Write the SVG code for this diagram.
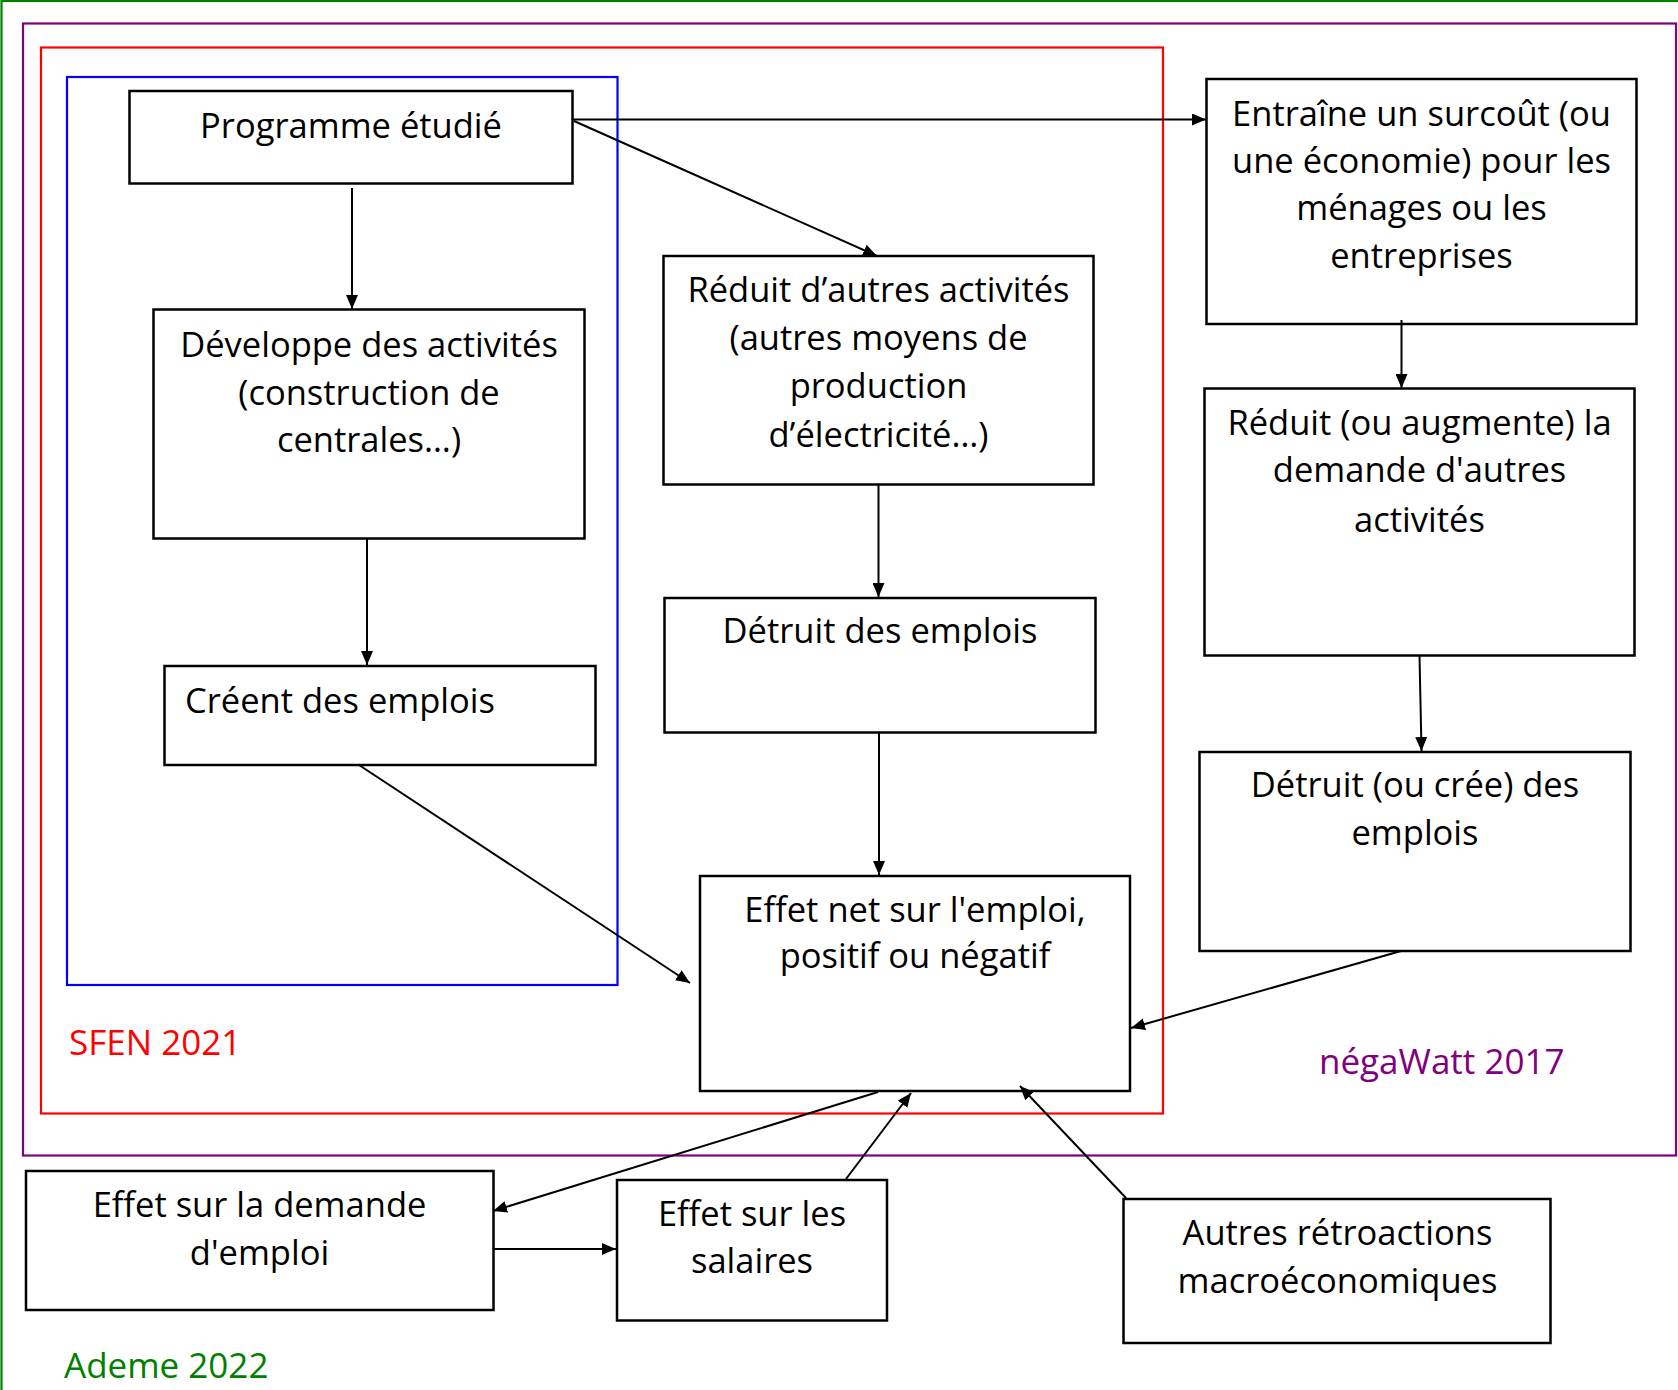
<svg xmlns="http://www.w3.org/2000/svg" width="1678" height="1390" viewBox="0 0 1678 1390">
<defs>
<marker id="ah" markerUnits="userSpaceOnUse" markerWidth="16" markerHeight="12" refX="14" refY="6" orient="auto">
<path d="M0,0 L14,6 L0,12 Z" fill="#000"/>
</marker>
<style>
.box{fill:#fff;stroke:#000;stroke-width:2.5}
.frame{fill:none;stroke-width:2.2}
.t{font-family:"Open Sans","Noto Sans","Liberation Sans",sans-serif;font-size:34.5px;fill:#000;text-anchor:middle}
.lbl{font-family:"Open Sans","Noto Sans","Liberation Sans",sans-serif;font-size:35px}
.c{fill:none;stroke:#000;stroke-width:2;marker-end:url(#ah)}
</style>
</defs>
<rect width="1678" height="1390" fill="#fff"/>
<g id="frames">
<rect class="frame" x="1.5" y="1" width="1700" height="1420" stroke="#008000"/>
<rect class="frame" x="23" y="23.5" width="1653" height="1132" stroke="#800080"/>
<rect class="frame" x="41" y="47.5" width="1122" height="1066" stroke="#ff0000"/>
<rect class="frame" x="67" y="77" width="550.5" height="908" stroke="#0000ff"/>
</g>
<g id="frame-labels">
<text class="lbl" x="69" y="1055" fill="#ff0000">SFEN 2021</text>
<text class="lbl" x="1319" y="1074" fill="#800080">négaWatt 2017</text>
<text class="lbl" x="64" y="1378" fill="#008000">Ademe 2022</text>
</g>
<g id="n-programme">
<rect class="box" x="129.5" y="91" width="443" height="92.5"/>
<text class="t" x="351" y="138">Programme étudié</text>
</g>
<g id="n-developpe">
<rect class="box" x="153.5" y="309.5" width="431" height="229"/>
<text class="t" x="369" y="357">Développe des activités</text>
<text class="t" x="369" y="405">(construction de</text>
<text class="t" x="369" y="452">centrales…)</text>
</g>
<g id="n-creent">
<rect class="box" x="164.5" y="666" width="431" height="99"/>
<text class="t" x="185" y="713" style="text-anchor:start">Créent des emplois</text>
</g>
<g id="n-reduit-autres">
<rect class="box" x="663.5" y="256" width="430" height="228.5"/>
<text class="t" x="878.5" y="302">Réduit d’autres activités</text>
<text class="t" x="878.5" y="350">(autres moyens de</text>
<text class="t" x="878.5" y="398">production</text>
<text class="t" x="878.5" y="447">d’électricité…)</text>
</g>
<g id="n-detruit">
<rect class="box" x="664.5" y="598" width="431" height="134.5"/>
<text class="t" x="880" y="643">Détruit des emplois</text>
</g>
<g id="n-effet-net">
<rect class="box" x="700" y="876" width="430" height="215"/>
<text class="t" x="915" y="922">Effet net sur l'emploi,</text>
<text class="t" x="915" y="968">positif ou négatif</text>
</g>
<g id="n-entraine">
<rect class="box" x="1206.5" y="79" width="430" height="245"/>
<text class="t" x="1421.5" y="126">Entraîne un surcoût (ou</text>
<text class="t" x="1421.5" y="173">une économie) pour les</text>
<text class="t" x="1421.5" y="220">ménages ou les</text>
<text class="t" x="1421.5" y="268">entreprises</text>
</g>
<g id="n-reduit-augmente">
<rect class="box" x="1204.5" y="388.5" width="430" height="267"/>
<text class="t" x="1419.5" y="435">Réduit (ou augmente) la</text>
<text class="t" x="1419.5" y="482">demande d'autres</text>
<text class="t" x="1419.5" y="532">activités</text>
</g>
<g id="n-detruit-cree">
<rect class="box" x="1199.5" y="752" width="431" height="199"/>
<text class="t" x="1415" y="797">Détruit (ou crée) des</text>
<text class="t" x="1415" y="845">emplois</text>
</g>
<g id="n-demande">
<rect class="box" x="26" y="1171" width="467.5" height="139"/>
<text class="t" x="259.5" y="1217">Effet sur la demande</text>
<text class="t" x="259.5" y="1265">d'emploi</text>
</g>
<g id="n-salaires">
<rect class="box" x="617" y="1180" width="270" height="140.5"/>
<text class="t" x="752" y="1226">Effet sur les</text>
<text class="t" x="752" y="1273">salaires</text>
</g>
<g id="n-autres">
<rect class="box" x="1123.5" y="1199" width="427" height="144"/>
<text class="t" x="1337.5" y="1245">Autres rétroactions</text>
<text class="t" x="1337.5" y="1293">macroéconomiques</text>
</g>
<g id="connectors">
<line class="c" x1="352" y1="188" x2="352" y2="309"/>
<line class="c" x1="573" y1="119.5" x2="1206" y2="119.5"/>
<line class="c" x1="574" y1="121" x2="877" y2="256"/>
<line class="c" x1="367" y1="538.5" x2="367" y2="665"/>
<line class="c" x1="359" y1="765" x2="690" y2="983"/>
<line class="c" x1="878.5" y1="484.5" x2="878.5" y2="597"/>
<line class="c" x1="879" y1="732.5" x2="879" y2="875"/>
<line class="c" x1="1401.5" y1="320" x2="1401.5" y2="388"/>
<line class="c" x1="1419.5" y1="655.5" x2="1421.5" y2="751"/>
<line class="c" x1="1401" y1="951" x2="1131" y2="1028"/>
<line class="c" x1="878" y1="1092" x2="493" y2="1211"/>
<line class="c" x1="493" y1="1249" x2="616" y2="1249"/>
<line class="c" x1="846" y1="1179" x2="911" y2="1093"/>
<line class="c" x1="1126" y1="1198" x2="1020" y2="1086"/>
</g>
</svg>
